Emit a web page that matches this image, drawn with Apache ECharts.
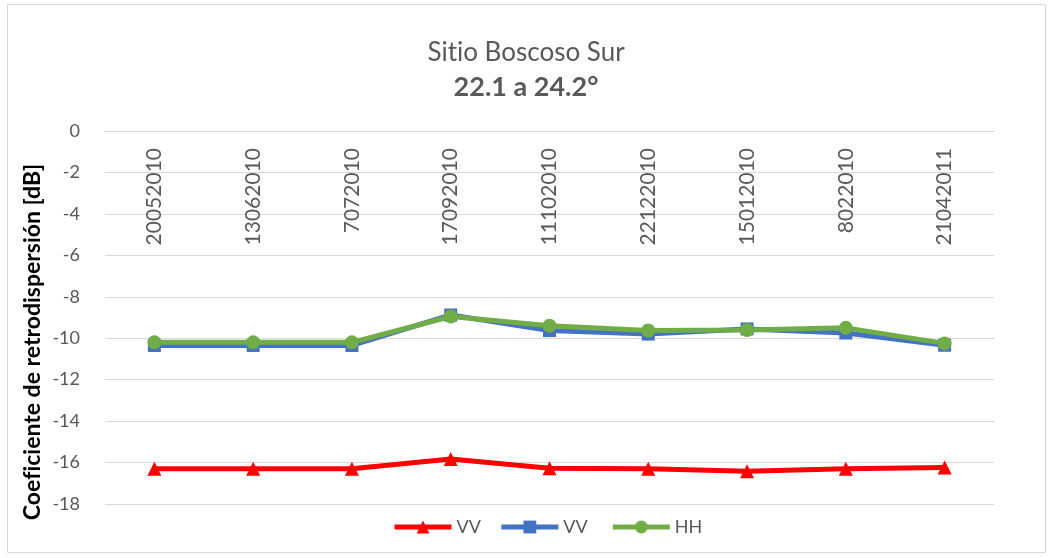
<!DOCTYPE html>
<html><head><meta charset="utf-8">
<script src="https://cdn.jsdelivr.net/npm/echarts@6/dist/echarts.min.js"></script>
<style>html,body{margin:0;padding:0;background:#fff}#c{width:1052px;height:558px}</style>
</head><body><div id="c"></div>
<script>
const categories = ['20052010','13062010','7072010','17092010','11102010','22122010','15012010','8022010','21042011'];
const vvRed  = [-16.3, -16.3, -16.3, -15.83, -16.28, -16.3, -16.42, -16.3, -16.24];
const vvBlue = [-10.35, -10.35, -10.35, -8.88, -9.63, -9.8, -9.55, -9.75, -10.34];
const hh     = [-10.2, -10.2, -10.2, -8.95, -9.4, -9.63, -9.6, -9.5, -10.25];
const yTicks = {min: -18, max: 0, interval: 2};
const FONT = 'Lato, "Open Sans", sans-serif';

// avoid typographic ligatures (e.g. "ti") so text looks like the reference font
(function () {
  const P = CanvasRenderingContext2D.prototype;
  const ft = P.fillText;
  P.fillText = function () { try { this.textRendering = 'optimizeSpeed'; } catch (e) {} return ft.apply(this, arguments); };
})();

const chart = echarts.init(document.getElementById('c'), null, {renderer: 'canvas'});
chart.setOption({
  animation: false,
  backgroundColor: '#fff',
  title: [
    {text: 'Sitio Boscoso Sur', left: 'center', top: 35,
     textStyle: {fontFamily: FONT, fontSize: 26, fontWeight: 'normal', color: '#595959'}},
    {text: '22.1 a 24.2°', left: 'center', top: 69,
     textStyle: {fontFamily: FONT, fontSize: 27, fontWeight: 'bold', color: '#595959'}}
  ],
  graphic: [
    {type: 'rect', shape: {x: 7.5, y: 4.5, width: 1038, height: 548}, style: {fill: 'none', stroke: '#d9d9d9', lineWidth: 1}},
    {type: 'text', x: 33, y: 342, rotation: Math.PI / 2,
     style: {text: 'Coeficiente de retrodispersión [dB]', fontFamily: FONT, fontSize: 23, fontWeight: 'bold', fill: '#000', align: 'center', verticalAlign: 'middle'}}
  ],
  legend: {
    top: 513, left: 387, itemWidth: 57, itemHeight: 16, itemGap: 18,
    lineStyle: {width: 5},
    textStyle: {fontFamily: FONT, fontSize: 18, color: '#595959'},
    data: ['VV', 'VV ', 'HH']
  },
  grid: {left: 105, right: 58, top: 131, bottom: 54, containLabel: false},
  xAxis: {
    type: 'category', data: categories, position: 'top', boundaryGap: true,
    axisLine: {show: true, lineStyle: {color: '#d9d9d9', width: 1}},
    axisTick: {show: false},
    axisLabel: {inside: true, rotate: 90, margin: 17, fontFamily: FONT, fontSize: 21, color: '#595959'}
  },
  yAxis: {
    type: 'value', min: yTicks.min, max: yTicks.max, interval: yTicks.interval,
    axisLine: {show: false}, axisTick: {show: false},
    axisLabel: {margin: 25, fontFamily: FONT, fontSize: 18, color: '#595959'},
    splitLine: {lineStyle: {color: '#d9d9d9', width: 1}}
  },
  series: [
    {name: 'VV', type: 'line', data: vvRed, symbol: 'triangle', symbolSize: 14,
     lineStyle: {color: '#ff0000', width: 5}, itemStyle: {color: '#ff0000'}},
    {name: 'VV ', type: 'line', data: vvBlue, symbol: 'rect', symbolSize: 13,
     lineStyle: {color: '#4472c4', width: 5}, itemStyle: {color: '#4472c4'}},
    {name: 'HH', type: 'line', data: hh, symbol: 'circle', symbolSize: 14,
     lineStyle: {color: '#70ad47', width: 5}, itemStyle: {color: '#70ad47'}}
  ]
});
</script></body></html>
